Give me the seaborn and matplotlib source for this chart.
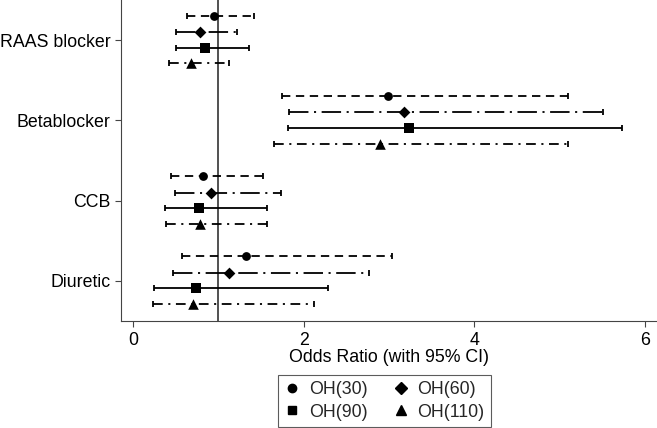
import numpy as np
import pandas as pd
import matplotlib
matplotlib.use("Agg")
import matplotlib.pyplot as plt
import seaborn as sns
from matplotlib.lines import Line2D

# ---- data ----
categories = ["RAAS blocker", "Betablocker", "CCB", "Diuretic"]
groups = ["OH(30)", "OH(60)", "OH(90)", "OH(110)"]

or_30 = [0.95, 2.99, 0.82, 1.33]
lo_30 = [0.63, 1.75, 0.45, 0.58]
hi_30 = [1.42, 5.10, 1.52, 3.04]

or_60 = [0.78, 3.17, 0.92, 1.13]
lo_60 = [0.50, 1.83, 0.49, 0.47]
hi_60 = [1.22, 5.51, 1.73, 2.77]

or_90 = [0.84, 3.23, 0.77, 0.74]
lo_90 = [0.51, 1.82, 0.38, 0.25]
hi_90 = [1.36, 5.73, 1.57, 2.28]

or_110 = [0.68, 2.89, 0.79, 0.70]
lo_110 = [0.42, 1.65, 0.39, 0.23]
hi_110 = [1.12, 5.10, 1.57, 2.12]

x_ticks = [0, 2, 4, 6]
ref_value = 1

# ---- styles ----
offsets = [-0.305, -0.1, 0.095, 0.29]
markers = ["o", "D", "s", "^"]
msizes = [40, 36, 44, 58]
dashes = [(0, (6, 4)), (0, (14, 4, 1.5, 4)), "solid", (0, (7, 4, 1.5, 4))]
FS = 12.8

series = {
    "OH(30)": (or_30, lo_30, hi_30),
    "OH(60)": (or_60, lo_60, hi_60),
    "OH(90)": (or_90, lo_90, hi_90),
    "OH(110)": (or_110, lo_110, hi_110),
}

rows = []
for gi, g in enumerate(groups):
    o, l, h = series[g]
    for ci, c in enumerate(categories):
        rows.append(dict(category=c, group=g, OR=o[ci], lo=l[ci], hi=h[ci],
                         y=ci + offsets[gi]))
df = pd.DataFrame(rows)

sns.set_theme(style="ticks")
plt.rcParams["font.family"] = ["Liberation Sans", "DejaVu Sans"]
plt.rcParams["lines.scale_dashes"] = False

fig = plt.figure(figsize=(6.57, 4.28), dpi=100)
W, H = 657, 428
ax = fig.add_axes([121 / W, 1 - 321 / H, 1 - 121 / W, 321 / H])

ax.axvline(ref_value, color="#333333", lw=1.2, zorder=1)

for gi, g in enumerate(groups):
    d = df[df.group == g]
    eb = ax.errorbar(d.OR, d.y, xerr=[d.OR - d.lo, d.hi - d.OR], fmt="none",
                     ecolor="black", elinewidth=1.3, capsize=2.3, capthick=1.3,
                     zorder=2)
    eb[2][0].set_linestyle(dashes[gi])
    sns.scatterplot(data=d, x="OR", y="y", marker=markers[gi], s=msizes[gi],
                    color="black", edgecolor="black", linewidth=0, ax=ax,
                    zorder=3, legend=False)

ax.set_xlim(-0.14, 6.14)
ax.set_ylim(3.5, -0.5)
ax.set_xticks(x_ticks)
ax.set_xticklabels([str(t) for t in x_ticks], fontsize=FS)
ax.set_yticks(range(len(categories)))
ax.set_yticklabels(categories, fontsize=FS)
ax.set_xlabel("Odds Ratio (with 95% CI)", fontsize=FS, labelpad=0, color="black")
ax.set_ylabel("")
ax.tick_params(axis="both", length=4.5, width=0.8, color="#444444",
               labelcolor="black", pad=3)
ax.tick_params(axis="x", pad=3.5)
for s in ["top", "right"]:
    ax.spines[s].set_visible(False)
for s in ["left", "bottom"]:
    ax.spines[s].set_color("#444444")
    ax.spines[s].set_linewidth(0.8)

# legend: row-major order (30, 60 / 90, 110) -> column-major handles
handles = [Line2D([], [], marker=m, color="black", linestyle="none",
                  markersize=ms) for m, ms in zip(markers, [6, 6, 6, 6.5])]
order = [0, 2, 1, 3]
leg = fig.legend([handles[i] for i in order], [groups[i] for i in order],
                 ncol=2, loc="upper center",
                 bbox_to_anchor=(384.5 / W, 1 - 375 / H),
                 frameon=True, fancybox=False, edgecolor="#333333",
                 fontsize=FS, handlelength=0.9, handletextpad=0.5,
                 columnspacing=1.4, labelspacing=0.3, borderpad=0.35,
                 borderaxespad=0)
leg.get_frame().set_linewidth(0.8)

fig.savefig("out.png", dpi=100)
